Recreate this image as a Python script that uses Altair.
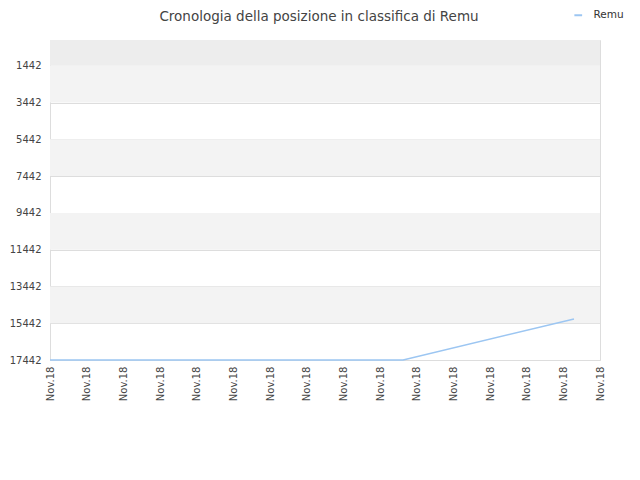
import altair as alt
import pandas as pd

# Series (x = position along time axis in tick units, y = rank)
series_name = "Remu"
x_pos = [0, 9.63, 14.29]
ranks = [17442, 17442, 15210]

# Tick labels
y_ticks = [1442, 3442, 5442, 7442, 9442, 11442, 13442, 15442, 17442]
x_ticks = list(range(16))
x_label = "Nov.18"

# Background bands
band_start = [40, 1442, 5442, 9442, 13442]
band_end = [1442, 3442, 7442, 11442, 15442]
band_color = ["#ededed", "#f3f3f3", "#f3f3f3", "#f3f3f3", "#f3f3f3"]

line_df = pd.DataFrame({"x": x_pos, "rank": ranks, "name": [series_name] * len(x_pos)})
band_df = pd.DataFrame({"y1": band_start, "y2": band_end, "c": band_color})

y_scale = alt.Scale(domain=[40, 17442], reverse=True, nice=False, zero=False)
x_scale = alt.Scale(domain=[0, 15], nice=False, zero=False)

y_axis = alt.Axis(values=y_ticks, format="d", labelOverlap=False, title=None,
                  grid=True, gridColor="#dddddd",
                  domain=False, ticks=False, labelPadding=9, labelFontSize=10,
                  labelColor="#444444", labelFont="DejaVu Sans")

bands = alt.Chart(band_df).mark_rect().encode(
    x=alt.value(0), x2=alt.value(550),
    y=alt.Y("y1:Q", scale=y_scale, axis=y_axis),
    y2="y2:Q",
    fill=alt.Fill("c:N", scale=None, legend=None),
)

line = alt.Chart(line_df).mark_line(strokeWidth=1.5).encode(
    x=alt.X("x:Q", scale=x_scale,
            axis=alt.Axis(values=x_ticks, title=None, grid=False, domain=False, ticks=False,
                          labelOverlap=False,
                          labelExpr=f"'{x_label}'", labelAngle=270, labelAlign="right",
                          labelBaseline="middle", labelPadding=6, labelFontSize=10,
                          labelColor="#444444", labelFont="DejaVu Sans")),
    y=alt.Y("rank:Q", scale=y_scale, axis=y_axis),
    stroke=alt.Stroke("name:N", scale=alt.Scale(range=["#9cc6f2"]),
                      legend=alt.Legend(title=None, orient="none", legendX=523, legendY=-30,
                                        symbolType="stroke", symbolSize=60, symbolStrokeWidth=2,
                                        labelOffset=10, labelFontSize=10.5, labelColor="#333333",
                                        labelFont="DejaVu Sans")),
)

chart = alt.layer(bands, line).properties(
    width=550, height=320,
    title=alt.Title("Cronologia della posizione in classifica di Remu", fontSize=13.5,
                    font="DejaVu Sans", fontWeight="normal", color="#444444",
                    anchor="middle", frame="group", offset=-13, dx=-6),
    padding={"left": 42, "top": 32, "right": 30, "bottom": 100},
    autosize=alt.AutoSizeParams(type="none"),
).configure_view(stroke="#dddddd")

chart.save("out.html", embed_options={"renderer": "svg", "actions": False})
